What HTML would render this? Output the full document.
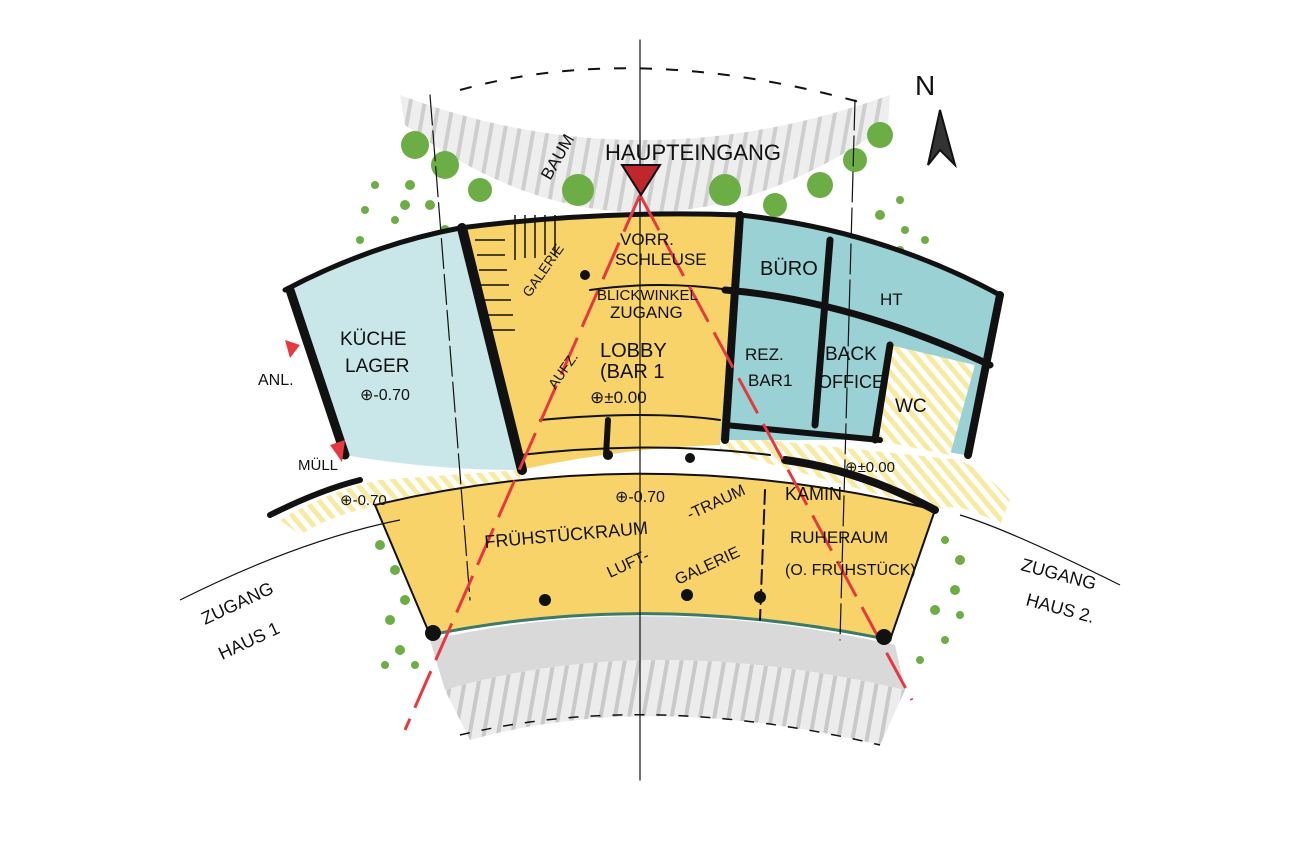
<!DOCTYPE html>
<html><head><meta charset="utf-8"><style>
html,body{margin:0;padding:0;background:#fff;}
svg{display:block}
text{font-family:"Liberation Sans",sans-serif;fill:#111;}
</style></head><body>
<svg width="1300" height="866" viewBox="0 0 1300 866" xmlns="http://www.w3.org/2000/svg">
<defs>
<pattern id="hy" width="10" height="10" patternUnits="userSpaceOnUse" patternTransform="rotate(-40)">
<rect width="10" height="10" fill="#fff"/><rect width="5" height="10" fill="#f8eaa0"/></pattern>
<pattern id="gr" width="14" height="14" patternUnits="userSpaceOnUse" patternTransform="rotate(10)">
<rect width="14" height="14" fill="#ececec"/><rect width="4" height="14" fill="#c9c9c9"/></pattern>
</defs>
<!-- top canopy -->
<path d="M400,95 Q640,185 890,95 L888,125 Q640,300 405,125 Z" fill="url(#gr)" opacity="0.9"/>
<path d="M460,90 Q640,40 870,105" fill="none" stroke="#111" stroke-width="2" stroke-dasharray="12,14"/>
<!-- bottom fan -->
<path d="M430,640 Q650,590 895,645 L905,690 Q650,630 445,690 Z" fill="#d9d9d9"/>
<path d="M445,690 Q650,630 905,690 L880,745 Q650,690 470,740 Z" fill="url(#gr)"/>
<path d="M460,735 Q650,690 880,745" fill="none" stroke="#111" stroke-width="1.5" stroke-dasharray="10,12"/>
<!-- green dots -->
<g fill="#6cae45">
<circle cx="415" cy="145" r="14"/><circle cx="445" cy="165" r="14"/><circle cx="480" cy="190" r="12"/><circle cx="410" cy="185" r="5"/><circle cx="405" cy="205" r="5"/><circle cx="395" cy="220" r="4"/><circle cx="430" cy="205" r="5"/><circle cx="445" cy="230" r="5"/><circle cx="375" cy="185" r="4"/><circle cx="365" cy="210" r="4"/><circle cx="360" cy="240" r="4"/>
<circle cx="578" cy="190" r="16"/><circle cx="725" cy="190" r="16"/>
<circle cx="880" cy="135" r="13"/><circle cx="855" cy="160" r="12"/><circle cx="820" cy="185" r="13"/><circle cx="775" cy="205" r="12"/><circle cx="900" cy="200" r="4"/><circle cx="880" cy="215" r="5"/><circle cx="905" cy="230" r="4"/><circle cx="925" cy="240" r="4"/><circle cx="900" cy="250" r="4"/>
<circle cx="530" cy="270" r="20"/>
<circle cx="380" cy="545" r="5"/><circle cx="395" cy="570" r="5"/><circle cx="405" cy="600" r="5"/><circle cx="390" cy="620" r="5"/><circle cx="400" cy="650" r="5"/><circle cx="385" cy="665" r="4"/><circle cx="415" cy="665" r="4"/>
<circle cx="945" cy="540" r="4"/><circle cx="960" cy="560" r="5"/><circle cx="955" cy="590" r="5"/><circle cx="935" cy="610" r="5"/><circle cx="945" cy="640" r="4"/><circle cx="960" cy="615" r="4"/><circle cx="920" cy="660" r="4"/>
</g>
<!-- hatched strips -->
<path d="M280,520 Q330,490 380,480 L520,470 L520,485 L380,505 Q330,515 300,535 Z" fill="url(#hy)"/>
<path d="M720,435 L960,460 Q990,475 1010,500 L1000,525 Q960,500 935,510 L720,450 Z" fill="url(#hy)"/>
<!-- rooms -->
<path d="M290,290 Q370,245 460,228 L520,470 Q430,470 345,455 Z" fill="#c9e7e8"/>
<path d="M460,228 Q600,210 740,215 L720,445 Q620,448 520,470 Z" fill="#f8d36a"/>
<path d="M740,215 Q880,230 1000,295 L965,455 L880,440 L720,440 Z" fill="#99d1d4"/>
<path d="M890,345 L975,365 L950,455 L875,440 Z" fill="url(#hy)"/>
<path d="M375,505 Q650,440 935,510 L890,640 Q650,590 430,635 Z" fill="#f8d36a"/>
<!-- walls -->
<g fill="none" stroke="#111" stroke-linecap="round">
<path d="M285,290 Q370,245 460,228 Q600,210 740,215 Q880,230 1000,295" stroke-width="5"/>
<path d="M290,290 L345,455" stroke-width="9"/>
<path d="M462,228 L522,470" stroke-width="10"/>
<path d="M740,215 L725,440" stroke-width="8"/>
<path d="M1000,295 L968,455" stroke-width="8"/>
<path d="M830,240 L815,425" stroke-width="7"/>
<path d="M725,290 Q850,300 990,365" stroke-width="7"/>
<path d="M890,345 L875,440" stroke-width="7"/>
<path d="M725,425 L880,440" stroke-width="6"/>
<path d="M785,460 Q860,470 935,510" stroke-width="8"/>
<path d="M270,515 Q320,490 360,480" stroke-width="6"/>
<path d="M375,505 L430,635" stroke-width="2"/>
<path d="M935,510 L890,640" stroke-width="2"/>
<path d="M430,635 Q650,590 890,640" stroke-width="3" stroke="#3a7a6a"/>
<path d="M375,505 Q650,440 935,510" stroke-width="2"/>
<path d="M640,40 L640,780" stroke-width="1.2"/>
<path d="M430,95 L470,600" stroke-width="1.2" stroke-dasharray="30,6"/>
<path d="M855,100 L840,640" stroke-width="1.2" stroke-dasharray="30,6"/>
<path d="M765,490 L760,620" stroke-width="2" stroke-dasharray="14,6"/>
<path d="M540,420 Q650,410 720,420" stroke-width="2"/>
<path d="M520,455 Q650,440 770,455" stroke-width="2"/>
<path d="M608,420 L606,455" stroke-width="6"/>
<path d="M590,290 Q660,280 730,290" stroke-width="2"/>
</g>
<!-- stairs -->
<g stroke="#111" stroke-width="1.5">
<path d="M475,240 L505,240 M477,255 L505,255 M479,270 L507,270 M481,285 L509,285 M483,300 L511,300 M485,315 L513,315 M487,330 L515,330"/>
<path d="M515,215 L515,260 M525,215 L525,258 M535,215 L535,258 M545,215 L545,255 M555,215 L555,255"/>
</g>
<!-- red lines -->
<path d="M640,195 L405,730 M640,195 L912,700" stroke="#e53940" stroke-width="3" fill="none" stroke-dasharray="40,12"/>
<path d="M622,165 L660,165 L641,195 Z" fill="#c0272d" stroke="#111" stroke-width="2"/>
<path d="M285,340 L300,345 L290,358 Z" fill="#e53940"/>
<path d="M330,445 L345,440 L342,462 Z" fill="#e53940"/>
<!-- columns -->
<g fill="#111"><circle cx="433" cy="633" r="8"/><circle cx="545" cy="600" r="6"/><circle cx="687" cy="595" r="6"/><circle cx="760" cy="597" r="6"/><circle cx="884" cy="637" r="8"/><circle cx="585" cy="275" r="5"/><circle cx="608" cy="455" r="5"/><circle cx="690" cy="458" r="5"/></g>
<!-- north -->
<path d="M940,110 L928,165 L940,150 L955,165 Z" fill="#333" stroke="#111" stroke-width="2"/>
<text x="915" y="95" font-size="28">N</text>
<!-- labels -->
<g font-size="17">
<text x="605" y="160" font-size="22">HAUPTEINGANG</text>
<text x="538" y="180" font-size="17" transform="rotate(-60 545 170)">BAUM</text>
<text x="620" y="245">VORR.</text><text x="615" y="265">SCHLEUSE</text>
<text x="597" y="300" font-size="15">BLICKWINKEL</text><text x="610" y="318">ZUGANG</text>
<text x="600" y="357" font-size="20">LOBBY</text><text x="600" y="378" font-size="20">(BAR 1</text>
<text x="590" y="403" font-size="17">⊕±0.00</text>
<text x="545" y="390" transform="rotate(-55 550 380)" font-size="14">AUFZ.</text>
<text x="515" y="290" font-size="14" fill="#111" transform="rotate(-55 530 280)">GALERIE</text>
<text x="340" y="345" font-size="19">KÜCHE</text><text x="345" y="372" font-size="19">LAGER</text>
<text x="360" y="400" font-size="16">⊕-0.70</text>
<text x="258" y="385" font-size="16">ANL.</text>
<text x="298" y="470" font-size="15">MÜLL</text>
<text x="340" y="505" font-size="15">⊕-0.70</text>
<text x="760" y="275" font-size="20">BÜRO</text>
<text x="880" y="305" font-size="17">HT</text>
<text x="745" y="360" font-size="17">REZ.</text><text x="748" y="386" font-size="17">BAR1</text>
<text x="825" y="360" font-size="19">BACK</text><text x="818" y="388" font-size="18">OFFICE</text>
<text x="895" y="412" font-size="19">WC</text>
<text x="845" y="472" font-size="15">⊕±0.00</text>
<text x="615" y="502" font-size="16">⊕-0.70</text>
<text x="485" y="548" font-size="18" transform="rotate(-5 485 548)">FRÜHSTÜCKRAUM</text>
<text x="690" y="520" font-size="16" transform="rotate(-25 690 520)">-TRAUM</text>
<text x="610" y="578" font-size="16" transform="rotate(-25 610 578)">LUFT-</text>
<text x="678" y="585" font-size="16" transform="rotate(-25 678 585)">GALERIE</text>
<text x="785" y="500" font-size="18">KAMIN</text>
<text x="790" y="543" font-size="17">RUHERAUM</text>
<text x="785" y="575" font-size="16">(O. FRÜHSTÜCK)</text>
<text x="205" y="625" font-size="18" transform="rotate(-25 205 625)">ZUGANG</text>
<text x="222" y="660" font-size="18" transform="rotate(-25 222 660)">HAUS 1</text>
<text x="1020" y="570" font-size="18" transform="rotate(15 1020 570)">ZUGANG</text>
<text x="1025" y="605" font-size="18" transform="rotate(15 1025 605)">HAUS 2.</text>
</g>
<g stroke="#111" stroke-width="1.2" fill="none">
<path d="M180,600 Q300,540 400,520"/><path d="M1120,585 Q1010,530 960,515"/>
</g>
</svg>
</body></html>
